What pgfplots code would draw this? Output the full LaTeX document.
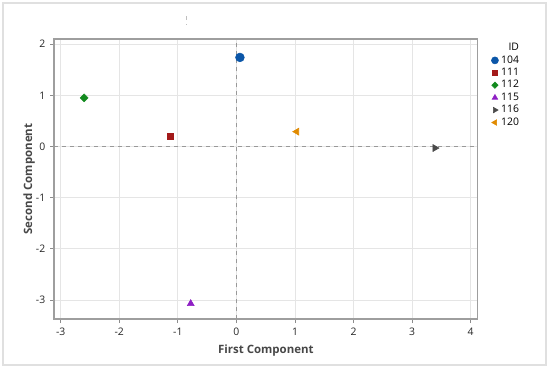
\documentclass[border=0pt]{standalone}
\usepackage{fontspec}
\setmainfont{Open Sans}
\usepackage{pgfplots}
\pgfplotsset{compat=1.18}
\definecolor{c104}{HTML}{0B56A8}
\definecolor{c111}{HTML}{A31A1A}
\definecolor{c112}{HTML}{128A1E}
\definecolor{c115}{HTML}{8E1FC4}
\definecolor{c116}{HTML}{4A4A4A}
\definecolor{c120}{HTML}{E08A00}
\begin{document}
\begin{tikzpicture}
\path[use as bounding box] (0pt,0pt) rectangle (412.5pt,-279pt);
\draw[color=black!12, line width=0.8pt] (2.25pt,-2.25pt) rectangle (409.5pt,-273.75pt);
\draw[color=black!25, dashed, line width=0.6pt] (139.5pt,-12pt) -- (139.5pt,-18.75pt);
\begin{axis}[
  at={(40.5pt,-239.25pt)}, anchor=south west,
  scale only axis, width=317.8pt, height=210pt,
  xmin=-3.114, xmax=4.12, ymin=-3.37, ymax=2.1,
  xtick={-3,-2,-1,0,1,2,3,4}, ytick={-3,-2,-1,0,1,2},
  xtick pos=left, ytick pos=left,
  grid=major, major grid style={color=black!10, line width=0.6pt},
  axis line style={color=black!38, line width=1.1pt},
  tick style={color=black!45, line width=0.6pt}, tick align=outside, major tick length=3pt,
  tick label style={font=\fontsize{7.8}{9}\selectfont, color=black!85},
  /pgf/number format/assume math mode=true,
  xlabel={First Component}, ylabel={Second Component},
  label style={font=\fontsize{8.6}{11}\selectfont\bfseries, color=black!72},
  ylabel shift=-6pt,
  legend style={at={(1.01,1.0)}, anchor=north west, draw=none, fill=none,
    font=\fontsize{7.8}{9}\selectfont, row sep=-1.8pt, inner sep=1pt},
  legend cell align=right,
  legend image post style={every mark/.append style={scale=0.8}},
]
\addlegendimage{empty legend}\addlegendentry{ID}
\addplot[forget plot, dashed, color=black!40, line width=0.7pt] coordinates {(0,-3.37) (0,2.1)};
\addplot[forget plot, dashed, color=black!40, line width=0.7pt] coordinates {(-3.114,0) (4.12,0)};
\addplot[only marks, mark=*, mark size=3.3pt, color=c104] coordinates {(0.06,1.74)};
\addlegendentry{104}
\addplot[only marks, mark=square*, mark size=2.4pt, color=c111] coordinates {(-1.13,0.20)};
\addlegendentry{111}
\addplot[only marks, mark=square*, mark size=2.1pt, mark options={rotate=45}, color=c112] coordinates {(-2.60,0.95)};
\addlegendentry{112}
\addplot[only marks, mark=triangle*, mark size=3pt, color=c115] coordinates {(-0.78,-3.07)};
\addlegendentry{115}
\addplot[only marks, mark=triangle*, mark size=3pt, mark options={rotate=-90}, color=c116] coordinates {(3.39,-0.03)};
\addlegendentry{116}
\addplot[only marks, mark=triangle*, mark size=3pt, mark options={rotate=90}, color=c120] coordinates {(1.03,0.29)};
\addlegendentry{120}
\end{axis}
\end{tikzpicture}
\end{document}
